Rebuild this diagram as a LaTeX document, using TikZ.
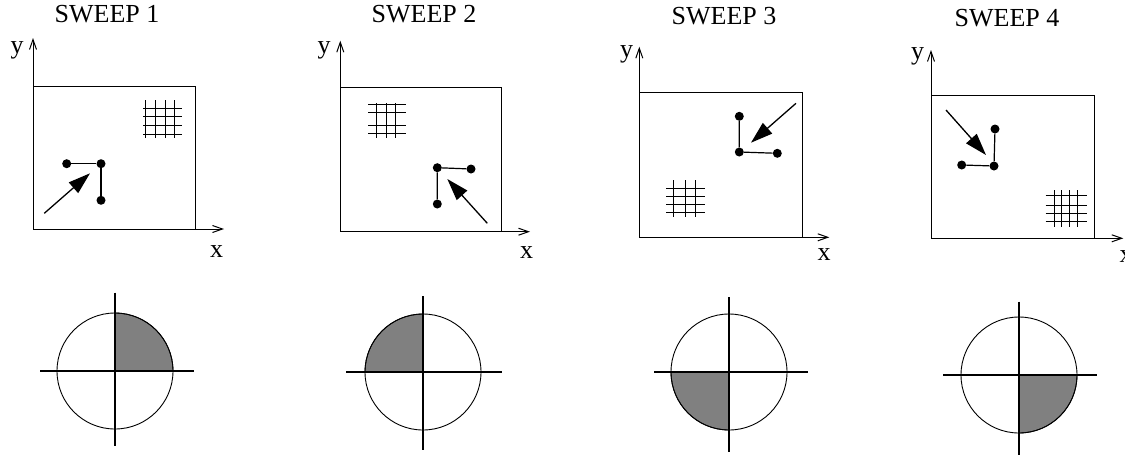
\documentclass[tikz,border=0pt]{standalone}
\usepackage{fontspec}
\setmainfont{Liberation Serif}
\usetikzlibrary{arrows.meta}
\begin{document}
\begin{tikzpicture}[x=1pt,y=-1pt,
 axis/.style={line width=1pt,-{Straight Barb[length=10pt,width=7pt]}},
 frame/.style={line width=0.9pt},
 gridln/.style={line width=0.9pt},
 dotnode/.style={circle,fill=black,inner sep=0pt,minimum size=9pt},
 link/.style={line width=1.2pt},
 sweeparrow/.style={line width=1.3pt,-{Triangle[length=22pt,width=14pt]}},
 lbl/.style={font=\fontsize{26}{30}\selectfont,inner sep=0pt,anchor=base},
 quad/.style={fill=black!50,draw=black,line width=0.8pt},
 ring/.style={line width=0.9pt},
 cross/.style={line width=1.1pt}]
\useasboundingbox (0,0) rectangle (1125,456);

% ---------------- panel 1 ----------------
\node[lbl] (t1) at (107,22.7) {SWEEP 1};
\coordinate (o1) at (33,229);
\coordinate (ya1) at (33,38);
\coordinate (xa1) at (224,229);
\draw[axis] (o1) -- (ya1);
\draw[axis] (o1) -- (xa1);
\draw[frame] (33,86) rectangle (195,229);
\node[lbl] (ly1) at (17,53) {y};
\node[lbl] (lx1) at (216.7,257.3) {x};
\foreach \gx in {145.7,155.3,165.3,174.3} \draw[gridln] (\gx,100) -- (\gx,138);
\foreach \gy in {108.3,116.3,125.7,134.7} \draw[gridln] (143,\gy) -- (182,\gy);
\node[dotnode] (a1) at (66.7,163.7) {};
\node[dotnode] (b1) at (101,163.7) {};
\node[dotnode] (c1) at (101,200.3) {};
\draw[link] (a1) -- (b1) -- (c1);
\coordinate (s1) at (44.3,213.3);
\coordinate (e1) at (90,173.3);
\draw[sweeparrow] (s1) -- (e1);

% ---------------- panel 2 ----------------
\node[lbl] (t2) at (424,22.7) {SWEEP 2};
\coordinate (o2) at (340.3,231.7);
\coordinate (ya2) at (340.3,40.7);
\coordinate (xa2) at (530,231.7);
\draw[axis] (o2) -- (ya2);
\draw[axis] (o2) -- (xa2);
\draw[frame] (340.3,87.3) rectangle (501.3,231.7);
\node[lbl] (ly2) at (324,53) {y};
\node[lbl] (lx2) at (526.7,258.3) {x};
\foreach \gx in {376.7,386,395} \draw[gridln] (\gx,103.3) -- (\gx,138.3);
\foreach \gy in {104.3,112.7,125.3,133.3} \draw[gridln] (368.3,\gy) -- (406,\gy);
\node[dotnode] (a2) at (437.3,167.7) {};
\node[dotnode] (b2) at (471,169) {};
\node[dotnode] (c2) at (437.3,204) {};
\draw[link] (b2) -- (a2) -- (c2);
\coordinate (s2) at (487.3,223.3);
\coordinate (e2) at (447.3,179);
\draw[sweeparrow] (s2) -- (e2);

% ---------------- panel 3 ----------------
\node[lbl] (t3) at (724,24) {SWEEP 3};
\coordinate (o3) at (639.3,237.3);
\coordinate (ya3) at (639.3,46.7);
\coordinate (xa3) at (829.3,237.3);
\draw[axis] (o3) -- (ya3);
\draw[axis] (o3) -- (xa3);
\draw[frame] (639.3,92.7) rectangle (802.3,237.3);
\node[lbl] (ly3) at (626.7,57) {y};
\node[lbl] (lx3) at (824,260) {x};
\foreach \gx in {673.3,685,695} \draw[gridln] (\gx,180) -- (\gx,216.7);
\foreach \gy in {188.3,196.7,204.3,212.7} \draw[gridln] (666,\gy) -- (705,\gy);
\node[dotnode] (a3) at (739.3,116.3) {};
\node[dotnode] (b3) at (739.3,152) {};
\node[dotnode] (c3) at (777.3,153.3) {};
\draw[link] (a3) -- (b3) -- (c3);
\coordinate (s3) at (796,103.3);
\coordinate (e3) at (751,142.7);
\draw[sweeparrow] (s3) -- (e3);

% ---------------- panel 4 ----------------
\node[lbl] (t4) at (1007,26) {SWEEP 4};
\coordinate (o4) at (931,238.3);
\coordinate (ya4) at (931,50);
\coordinate (xa4) at (1123.3,238.3);
\draw[axis] (o4) -- (ya4);
\draw[axis] (o4) -- (xa4);
\draw[frame] (931,95.7) rectangle (1094.3,238.3);
\node[lbl] (ly4) at (917.7,59.5) {y};
\node[lbl] (lx4) at (1126,262) {x};
\foreach \gx in {1054,1061.7,1069.3,1077.3} \draw[gridln] (\gx,190) -- (\gx,226.7);
\foreach \gy in {195,205,213.3,221.7} \draw[gridln] (1045.7,\gy) -- (1086.7,\gy);
\node[dotnode] (a4) at (995,129) {};
\node[dotnode] (b4) at (961.7,165) {};
\node[dotnode] (c4) at (994,166) {};
\draw[link] (a4) -- (c4) -- (b4);
\coordinate (s4) at (946,110);
\coordinate (e4) at (986,155);
\draw[sweeparrow] (s4) -- (e4);

% ---------------- circles ----------------
% circle 1: top-right shaded
\coordinate (k1) at (115,371);
\fill[quad] (k1) -- ++(58,0) arc[start angle=0,end angle=90,radius=58pt] -- cycle;
\draw[ring] (k1) circle[radius=58pt];
\draw[cross] (40,371) -- (194,371);
\draw[cross] (115,292.7) -- (115,445.7);

% circle 2: top-left shaded
\coordinate (k2) at (423,372);
\fill[quad] (k2) -- ++(0,-58) arc[start angle=90,end angle=180,radius=58pt] -- cycle;
\draw[ring] (k2) circle[radius=58pt];
\draw[cross] (346,372) -- (502,372);
\draw[cross] (423,296) -- (423,450);

% circle 3: bottom-left shaded
\coordinate (k3) at (729,372);
\fill[quad] (k3) -- ++(-58,0) arc[start angle=180,end angle=270,radius=58pt] -- cycle;
\draw[ring] (k3) circle[radius=58pt];
\draw[cross] (654,372) -- (807.7,372);
\draw[cross] (729,297.3) -- (729,451.7);

% circle 4: bottom-right shaded
\coordinate (k4) at (1019,375);
\fill[quad] (k4) -- ++(0,58) arc[start angle=270,end angle=360,radius=58pt] -- cycle;
\draw[ring] (k4) circle[radius=58pt];
\draw[cross] (943.3,375) -- (1096.7,375);
\draw[cross] (1019,301.7) -- (1019,455);
\end{tikzpicture}
\end{document}
